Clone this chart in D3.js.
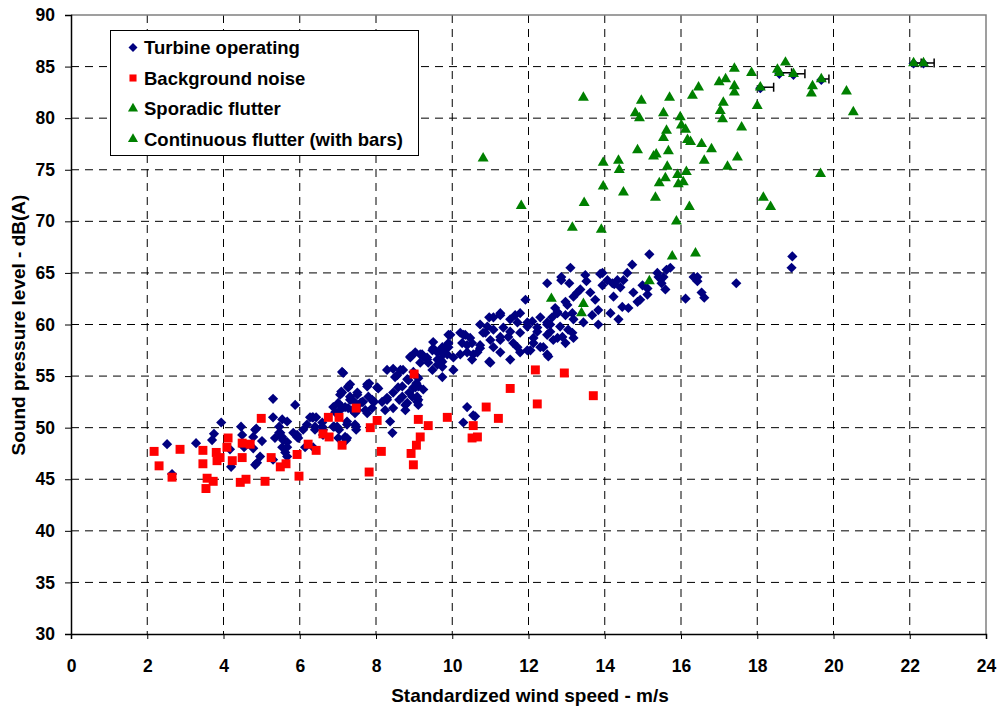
<!DOCTYPE html>
<html>
<head>
<meta charset="utf-8">
<script src="https://cdn.jsdelivr.net/npm/d3@7"></script>
<style>
  body { margin: 0; background: #fff; }
  svg { font-family: "Liberation Sans", Arial, sans-serif; font-weight: bold; }
</style>
</head>
<body>
<div id="chart"></div>
<script>
// axis ticks
const xTicks = [0, 2, 4, 6, 8, 10, 12, 14, 16, 18, 20, 22, 24];
const yTicks = [30, 35, 40, 45, 50, 55, 60, 65, 70, 75, 80, 85, 90];

const legendItems = ["Turbine operating", "Background noise", "Sporadic flutter", "Continuous flutter (with bars)"];

// [wind speed, dB(A)]
const turbineData = [
  [2.52,48.4],[3.28,48.5],[2.65,45.5],[3.94,50.5],[3.75,49.4],[3.70,48.8],[4.46,50.1],[4.49,49.3],[4.83,49.8],[4.78,49.1],
  [4.17,47.9],[4.20,46.2],[4.83,46.4],[4.78,48.0],[5.01,48.7],[4.54,48.1],[4.96,47.2],[4.88,46.6],[5.30,52.8],[5.30,51.0],
  [5.88,52.2],[5.46,50.1],[5.67,50.6],[5.54,49.1],[5.35,49.0],[5.67,48.6],[5.54,48.1],[5.30,46.9],[5.67,47.2],[5.93,49.1],
  [6.09,49.8],[6.27,51.0],[6.43,51.0],[6.59,50.1],[6.40,50.1],[6.88,50.1],[7.03,49.8],[7.24,50.6],[7.48,50.1],[7.22,48.8],
  [7.06,53.2],[7.27,53.9],[7.32,52.7],[7.51,53.4],[7.64,52.5],[7.77,54.2],[7.93,52.5],[7.11,55.4],[7.45,51.4],[7.06,51.7],
  [6.88,52.0],[4.86,49.9],[5.54,50.8],[5.46,49.5],[5.56,48.8],[5.83,49.5],[5.67,48.1],[5.96,49.0],[6.33,51.0],[6.59,50.5],
  [6.61,49.8],[6.40,49.8],[6.90,50.1],[7.24,50.3],[7.48,49.8],[7.24,49.0],[7.01,49.0],[7.14,55.3],[7.09,53.5],[7.27,54.0],
  [7.32,53.0],[7.51,53.2],[7.43,52.5],[7.77,54.0],[7.80,53.0],[7.66,52.5],[8.03,53.9],[7.95,52.5],[7.51,51.7],[7.27,51.9],
  [7.11,52.0],[6.93,51.5],[7.77,51.4],[7.90,51.9],[8.16,52.5],[8.29,52.9],[8.24,51.7],[8.37,50.6],[8.43,49.5],[8.29,55.6],
  [8.45,55.7],[8.56,55.1],[8.45,53.4],[8.58,53.9],[8.69,53.0],[8.77,51.7],[8.45,51.9],[8.90,56.9],[9.03,57.3],[9.21,57.1],
  [9.34,56.6],[9.50,58.3],[9.50,57.7],[9.69,57.5],[9.82,57.8],[9.87,57.1],[9.74,56.4],[9.61,56.1],[9.48,55.6],[9.74,54.9],
  [9.08,54.9],[8.98,53.9],[9.11,54.0],[9.24,53.7],[9.08,52.5],[8.87,53.4],[8.82,54.7],
  [11.92,62.4],[10.97,60.7],[11.26,60.9],[11.08,59.5],[10.87,59.2],[10.73,60.0],[11.26,58.8],[11.52,59.3],[11.71,60.2],[11.78,61.1],
  [11.97,60.2],[12.23,59.3],[12.49,60.2],[12.57,59.3],[12.76,61.1],[12.13,58.2],[12.39,57.8],[11.97,57.5],[12.49,57.1],[11.60,58.2],
  [11.52,56.6],[11.78,57.3],[11.08,57.8],[10.97,56.4],[10.73,57.7],[10.34,59.0],[10.26,58.2],[10.52,58.2],[10.55,57.1],[10.39,57.3],
  [10.21,59.2],[9.90,59.0],[9.90,58.2],[9.76,57.5],[9.61,57.3],[9.69,56.6],[10.03,55.6],[9.34,56.8],[9.16,57.1],[8.90,56.8],
  [8.64,55.6],[8.50,54.9],[8.69,54.0],[9.06,54.3],[9.08,53.0],[8.95,53.0],[8.82,52.4],[9.11,52.2],[8.61,52.7],[8.29,52.7],
  [8.06,53.8],[7.90,52.7],[7.72,51.7],[7.59,52.4],[7.38,51.7],[7.11,53.4],[7.01,52.4],[7.19,52.0],[7.32,54.2],[7.82,54.3],
  [10.39,52.0],[10.60,51.1],[10.29,50.5],[7.45,50.3],[7.19,49.1],[6.98,50.1],[6.35,51.0],[6.19,50.3],[5.93,49.3],[5.49,49.5],
  [6.61,49.3],[6.35,48.1],[6.14,48.1],[5.62,47.6],
  [12.49,64.0],[13.07,64.0],[12.86,64.3],[13.28,63.1],[13.02,61.9],[13.15,61.1],[12.76,61.2],[12.62,60.7],[12.31,60.7],[12.10,60.3],
  [11.97,59.8],[12.23,59.7],[12.49,60.0],[12.83,59.8],[13.04,59.5],[13.18,58.7],[12.97,58.2],[12.76,58.7],[12.49,59.0],[12.13,58.7],
  [12.52,56.9],[12.31,57.8],[12.05,57.5],[11.78,59.2],[11.71,57.8],[11.52,60.5],[11.65,60.9],[11.08,60.7],[11.26,61.1],[10.92,59.8],
  [11.34,59.7],[11.47,58.8],[11.26,58.5],[11.00,58.5],[10.81,59.2],[10.73,58.0],[11.00,56.3],[11.26,57.3],[10.66,57.3],[10.47,58.7],
  [10.29,59.0],[10.39,58.0],[10.52,56.6],[10.21,57.1],[9.95,59.0],[9.90,57.8],[10.03,56.8],[9.74,57.8],[9.76,57.1],[9.48,57.5],
  [9.61,56.6],[9.74,55.9],[9.37,56.3],[9.24,56.9],[9.16,56.3],[8.98,55.4],[9.11,54.8],[8.85,54.6],[9.03,53.9],[9.11,52.7],
  [8.71,55.6],[8.77,52.2],[10.55,51.2],
  [15.17,66.8],[14.72,65.8],[14.59,65.0],[15.38,65.0],[15.62,65.3],[15.72,65.5],[15.54,64.6],[15.49,64.0],[14.99,63.8],[15.12,63.5],
  [14.75,63.1],[14.93,62.4],[15.12,62.9],[15.59,63.4],[14.49,64.3],[14.41,63.6],[14.20,64.0],[14.33,64.3],[14.07,64.3],[13.94,65.0],
  [13.49,64.8],[13.10,65.5],[12.86,64.6],[13.94,63.8],[13.62,63.1],[13.36,63.4],[13.18,62.7],[12.97,62.2],[12.70,61.6],[13.75,62.4],
  [13.83,61.4],[13.67,60.9],[13.83,60.0],[13.44,60.2],[13.18,60.5],[12.97,60.9],[12.57,60.0],[13.15,59.2],[12.89,58.8],[12.65,58.5],
  [14.15,61.1],[14.36,60.5],[14.62,61.6],[14.86,62.2],[14.46,61.7],[14.23,62.7],[16.12,62.5],[16.54,63.1],[16.33,64.6],[16.43,64.6],
  [17.45,64.0],[18.92,66.6],[18.90,65.5],[16.43,64.2],[16.61,62.6],[15.41,64.6],[13.88,64.9],[13.52,64.2],[14.25,63.9],
  [18.08,82.9],[18.58,84.3],[18.95,84.2],[19.68,83.7],[22.10,85.3],[22.36,85.3]
];

const backgroundData = [
  [2.18,47.7],[2.31,46.3],[2.65,45.2],[2.86,47.9],[3.46,47.8],[3.46,46.5],[3.57,45.1],[3.73,44.8],[3.54,44.1],[3.81,47.6],
  [3.91,47.1],[3.83,46.8],[4.12,49.0],[4.09,48.1],[4.23,46.8],[4.49,48.5],[4.70,48.4],[4.49,47.1],[4.44,44.7],[4.59,45.0],
  [4.99,50.9],[5.09,44.8],[5.25,47.1],[5.49,46.2],[5.64,46.5],[5.93,47.4],[5.98,45.3],[6.22,48.4],[6.43,47.8],[6.61,49.4],
  [6.75,51.0],[7.03,51.0],[6.77,49.1],[7.11,48.3],[7.48,51.9],[7.85,50.0],[7.82,45.7],[8.03,50.7],[8.14,47.7],[9.00,55.2],
  [9.11,50.8],[9.37,50.2],[9.16,49.1],[9.06,48.3],[8.92,47.5],[8.98,46.4],[9.87,51.0],[10.89,52.0],[11.21,50.9],[10.55,50.2],
  [10.52,49.0],[10.66,49.1],[11.52,53.8],[12.18,55.6],[12.23,52.3],[12.94,55.3],[13.70,53.1]
];

const sporadicData = [
  [10.81,76.1],[11.81,71.5],[13.15,69.4],[12.60,62.5],[13.44,62.0],[13.39,61.1],[13.44,82.0],[13.46,71.8],[13.96,75.7],[13.96,73.4],
  [13.91,69.2],[14.36,75.9],[14.38,75.0],[14.49,72.8],[14.86,76.9],[14.96,81.7],[14.80,80.5],[14.91,80.0],[15.28,76.3],[15.35,76.5],
  [15.33,72.3],[15.43,73.7],[15.54,80.5],[15.54,78.1],[15.62,78.8],[15.64,75.3],[15.59,74.2],[15.67,76.8],[15.70,82.0],[15.88,70.0],
  [15.91,74.5],[15.93,73.6],[15.98,80.1],[16.01,79.3],[16.06,73.8],[16.12,78.9],[16.14,74.8],[16.17,77.9],[16.25,77.7],[16.22,71.4],
  [15.77,66.6],[16.38,66.9],[15.17,64.2],[16.30,82.2],[16.46,83.0],[16.54,77.5],[16.61,75.9],[16.80,77.0],[17.00,83.5],[17.17,83.8],
  [17.03,80.7],[17.11,81.5],[17.09,79.9],[17.22,75.3],[17.40,84.8],[17.40,83.1],[17.40,82.5],[17.48,76.2],[17.59,79.1],[17.85,84.4],
  [18.00,81.2],[18.16,72.3],[18.35,71.4],[18.53,84.7],[18.74,85.4],[19.42,82.4],[19.45,83.1],[19.66,74.6],[20.34,82.6],[20.52,80.6]
];

// [wind speed, dB(A), bar length]
const continuousData = [
  [18.08,83.0,0.35],[18.58,84.4,0.32],[18.95,84.3,0.3],[19.68,83.8,0.2],[22.10,85.35,0.2],[22.36,85.35,0.28]
];

const width = 1003, height = 719;
const svg = d3.select("#chart").append("svg")
  .attr("width", width).attr("height", height);

const x = d3.scaleLinear().domain([0, 24]).range([71, 986]);
const y = d3.scaleLinear().domain([30, 90]).range([634, 15]);

// dashed grid
svg.append("g").selectAll("line").data(xTicks.slice(1, -1)).join("line")
  .attr("x1", d => x(d)).attr("x2", d => x(d))
  .attr("y1", y(90)).attr("y2", y(30))
  .attr("stroke", "#000").attr("stroke-width", 1).attr("stroke-dasharray", "8,6");
svg.append("g").selectAll("line").data(yTicks.slice(1, -1)).join("line")
  .attr("x1", x(0)).attr("x2", x(24))
  .attr("y1", d => y(d)).attr("y2", d => y(d))
  .attr("stroke", "#000").attr("stroke-width", 1).attr("stroke-dasharray", "8,6");

// plot frame (top and right in grey)
svg.append("path")
  .attr("d", `M${x(0)},${y(90)}H${x(24)}V${y(30)}`)
  .attr("fill", "none").attr("stroke", "#808080").attr("stroke-width", 1.5);

// axes
const xAxis = svg.append("g")
  .attr("transform", `translate(0,${y(30)})`)
  .call(d3.axisBottom(x).tickValues(xTicks).tickSize(5).tickPadding(21));
const yAxis = svg.append("g")
  .attr("transform", `translate(${x(0)},0)`)
  .call(d3.axisLeft(y).tickValues(yTicks).tickSize(6).tickPadding(10));
[xAxis, yAxis].forEach(g => {
  g.select(".domain").attr("stroke", "#000").attr("stroke-width", 1.5);
  g.selectAll(".tick line").attr("stroke", "#000");
  g.selectAll("text").attr("font-size", 17.5).attr("font-weight", "bold")
    .attr("font-family", "'Liberation Sans', Arial, sans-serif").attr("fill", "#000");
});

// markers
const diamond = d3.symbol(d3.symbolSquare, 52);
const square = d3.symbol(d3.symbolSquare, 80);
const triangle = d3.symbol(d3.symbolTriangle, 52);

svg.append("g").selectAll("path").data(turbineData).join("path")
  .attr("d", diamond)
  .attr("transform", d => `translate(${x(d[0])},${y(d[1])}) rotate(45)`)
  .attr("fill", "#000080");

svg.append("g").selectAll("path").data(backgroundData).join("path")
  .attr("d", square)
  .attr("transform", d => `translate(${x(d[0])},${y(d[1])})`)
  .attr("fill", "#ff0000");

svg.append("g").selectAll("path").data(sporadicData).join("path")
  .attr("d", triangle)
  .attr("transform", d => `translate(${x(d[0])},${y(d[1])})`)
  .attr("fill", "#008000");

// error bars for continuous flutter
const bars = svg.append("g").attr("stroke", "#000").attr("stroke-width", 1.5);
bars.selectAll("line.bar").data(continuousData).join("line").attr("class", "bar")
  .attr("x1", d => x(d[0])).attr("x2", d => x(d[0] + d[2]))
  .attr("y1", d => y(d[1])).attr("y2", d => y(d[1]));
bars.selectAll("line.cap").data(continuousData).join("line").attr("class", "cap")
  .attr("x1", d => x(d[0] + d[2])).attr("x2", d => x(d[0] + d[2]))
  .attr("y1", d => y(d[1]) - 4.5).attr("y2", d => y(d[1]) + 4.5);

svg.append("g").selectAll("path").data(continuousData).join("path")
  .attr("d", triangle)
  .attr("transform", d => `translate(${x(d[0])},${y(d[1])})`)
  .attr("fill", "#008000");

// axis titles
svg.append("text")
  .attr("x", 530).attr("y", 702)
  .attr("text-anchor", "middle").attr("font-size", 19)
  .text("Standardized wind speed - m/s");
svg.append("text")
  .attr("transform", "translate(25,325) rotate(-90)")
  .attr("text-anchor", "middle").attr("font-size", 19)
  .text("Sound pressure level - dB(A)");

// legend
const legend = svg.append("g");
legend.append("rect")
  .attr("x", 110.5).attr("y", 30.5).attr("width", 308).attr("height", 125)
  .attr("fill", "#fff").attr("stroke", "#000").attr("stroke-width", 1);
const legendSymbols = [
  { sym: d3.symbol(d3.symbolSquare, 40), rot: 45, fill: "#000080" },
  { sym: d3.symbol(d3.symbolSquare, 50), rot: 0, fill: "#ff0000" },
  { sym: d3.symbol(d3.symbolTriangle, 44), rot: 0, fill: "#008000" },
  { sym: d3.symbol(d3.symbolTriangle, 44), rot: 0, fill: "#008000" }
];
const rows = legend.selectAll("g").data(legendItems).join("g")
  .attr("transform", (d, i) => `translate(0,${47.5 + i * 30.5})`);
rows.append("path")
  .attr("d", (d, i) => legendSymbols[i].sym())
  .attr("transform", (d, i) => `translate(133,0) rotate(${legendSymbols[i].rot})`)
  .attr("fill", (d, i) => legendSymbols[i].fill);
rows.append("text")
  .attr("x", 144).attr("y", 6.5)
  .attr("font-size", 18.5)
  .text(d => d);
</script>
</body>
</html>
